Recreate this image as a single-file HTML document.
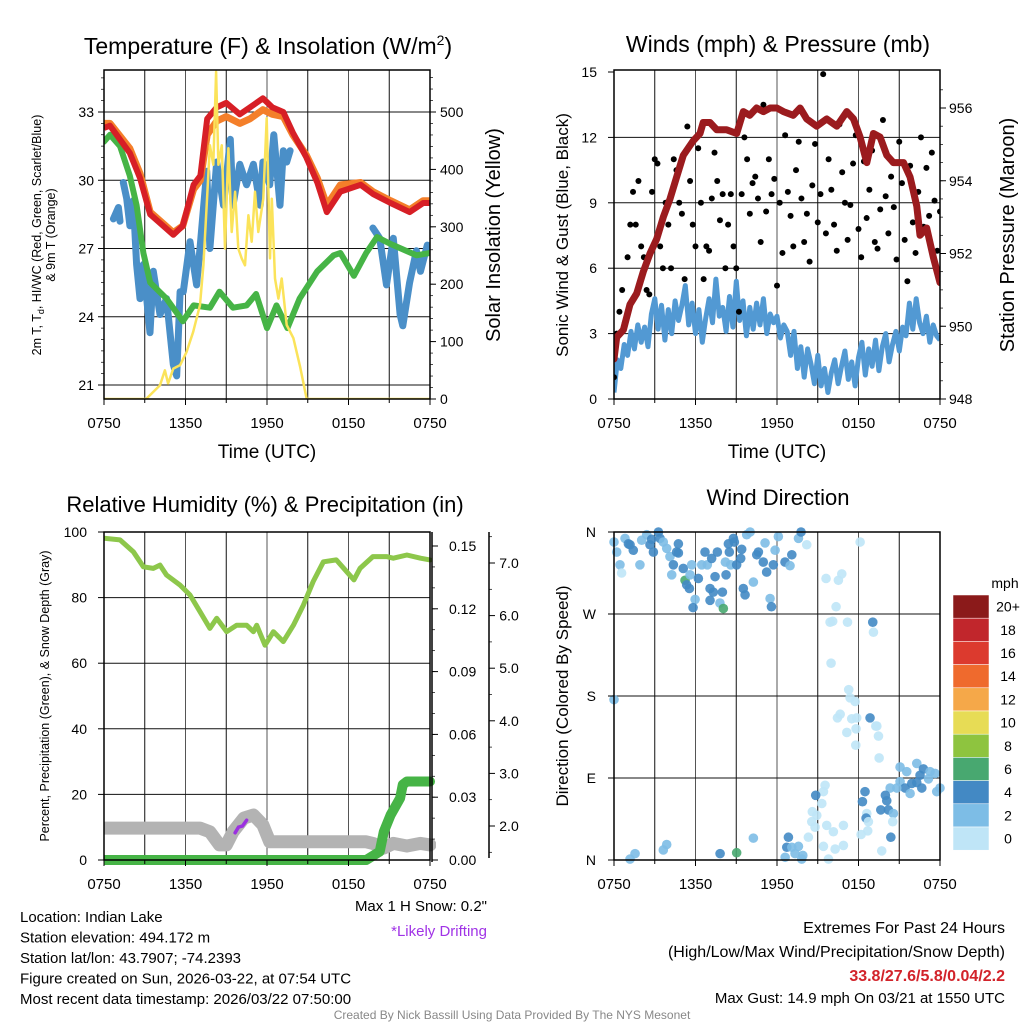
<!DOCTYPE html>
<html><head><meta charset="utf-8">
<style>
html,body{margin:0;padding:0;background:#fff;}
svg{display:block;font-family:"Liberation Sans",Arial,sans-serif;}
</style></head>
<body>
<svg id="chart" width="1024" height="1024" viewBox="0 0 1024 1024" xmlns="http://www.w3.org/2000/svg">
<rect width="1024" height="1024" fill="#fff"/>
</svg>
<script>
// ---------- Panel 1: temperature ----------
const tempTimes = [0,0.44,1.9,2.65,3.4,4.35,5.1,5.8,6.6,7.1,7.6,8.3,9.0,10,10.75,11.7,12.4,13.2,13.9,14.9,15.7,16.4,17.4,18.9,19.8,21.1,22.5,23.5,24];
const tempRed   = [32.3,32.4,31.2,30.1,28.5,28.0,27.6,28.0,29.8,30.2,32.7,33.2,33.4,32.9,33.2,33.6,33.2,33.0,32.1,31.0,29.9,28.6,29.5,29.8,29.4,29.0,28.6,29.0,29.0];
const temp9m    = [32.5,32.5,31.4,30.3,28.6,28.1,27.7,28.0,29.6,30.0,32.0,32.6,32.8,32.5,32.7,33.1,32.9,32.8,32.0,31.1,30.1,28.9,29.8,29.9,29.5,29.1,28.7,29.1,29.1];
const dewTimes  = [0,0.44,1.18,1.9,2.4,2.9,3.4,4.6,5.8,6.6,7.8,8.5,9.5,10.5,11.2,12,12.7,13.5,14.4,15.7,16.9,17.4,18.4,19.3,20.1,21.1,23,24];
const dewVals   = [31.7,32.0,31.5,30.2,28.9,26.8,25.5,24.8,23.8,24.5,24.4,25.1,24.4,24.5,25.0,23.5,24.5,23.5,24.8,26.0,26.7,26.8,25.8,26.8,27.5,27.2,26.7,26.8];
const hiTimes   = [0.69,1.06,1.18,null,1.42,1.67,1.91,2.16,2.4,2.65,2.9,3.39,3.63,4.12,4.6,5.1,5.35,5.6,5.84,6.33,6.82,7.07,7.56,7.8,8.3,8.8,9.3,9.5,10.0,10.5,11.0,11.5,11.7,12.2,12.5,12.96,13.2,13.45,13.7,null,19.8,20.3,20.8,21.3,21.8,22.0,22.5,23.0,23.3,23.8,24];
const hiVals    = [28.3,28.8,28.2,null,29.9,29.2,28.0,29.1,26.3,24.8,26.3,23.3,26.0,24.1,24.8,21.9,21.4,25.1,25.1,27.3,25.4,27.0,30.4,27.0,30.8,28.9,31.8,28.9,30.7,29.8,30.7,28.9,30.8,29.8,32.0,28.9,31.3,30.8,31.3,null,27.9,27.45,25.4,27.45,24.1,23.6,25.5,26.9,26.0,27.15,26.9];
const solarTimes= [0,3.1,4.12,4.48,4.72,5.1,5.6,6.08,6.57,7.07,7.32,7.56,7.8,8.05,8.25,8.42,8.67,8.91,9.16,9.4,9.65,9.89,10.14,10.38,10.63,10.87,11.12,11.36,11.73,11.98,12.22,12.35,12.59,12.84,13.08,13.45,13.94,14.43,14.92,24];
const solarVals = [0,0,24,50,27,53,59,82,117,164,233,338,442,408,570,408,442,262,437,291,361,262,245,233,320,274,361,291,349,489,245,349,210,175,210,129,106,57,0,0];
const tempTicks = [21,24,27,30,33];
const solarTicks = [0,100,200,300,400,500];

// ---------- Panel 2: winds & pressure ----------
const windStart = 0, windStep = 0.25;
const windVals = [0.3,1.8,1.4,2.5,2.0,3.1,2.3,3.4,2.6,3.3,2.4,3.9,
 4.6,3.2,4.3,2.7,4.1,3.0,4.5,3.6,4.3,5.2,3.4,4.4,
 3.0,4.1,2.6,3.7,4.6,3.5,5.5,3.8,4.2,3.1,4.7,3.3,
 5.4,3.6,4.5,2.9,4.2,3.2,4.4,3.4,4.6,3.0,3.9,3.5,
 3.8,2.8,3.4,3.1,2.0,3.1,1.4,2.4,1.0,2.3,1.6,0.7,
 2.0,0.6,1.4,0.3,1.2,1.8,0.7,1.5,2.2,0.9,1.7,0.6,
 1.9,2.6,1.1,2.3,1.5,2.7,1.3,2.4,3.0,1.7,2.5,3.1,
 2.2,3.3,2.9,4.4,3.2,4.6,3.5,3.0,3.8,2.6,3.4,2.9,2.7];
const presTimes = [0,0.2,0.69,1.18,1.67,2.16,2.65,3.14,3.63,4.12,4.61,5.1,5.84,6.33,6.57,7.07,7.56,8.3,9.03,9.52,10.0,10.5,11.0,11.5,11.99,12.47,13.2,13.7,14.19,14.92,15.66,16.4,17.14,17.63,18.12,18.61,19.1,19.59,20.08,20.57,21.31,21.8,22.29,22.53,23.02,23.51,24];
const presVals  = [949.1,949.7,949.9,950.6,950.9,951.5,952.0,952.4,953.0,953.5,954.1,954.7,955.1,955.3,955.6,955.6,955.4,955.4,955.3,955.9,955.8,956.0,955.9,956.0,956.0,955.9,955.8,956.0,955.7,955.5,955.7,955.5,955.9,955.7,955.2,954.5,955.3,955.2,954.7,954.5,954.5,954.1,953.3,952.5,952.7,951.9,951.2];
const gustStart = 0, gustStep = 0.2;
const gustVals = [1,3,4,5,3.5,6.5,8,9.5,8,10, 7,6.5,5,4.8,9.5,11.0,10.8,7,6,9.0, 8,6,11,10.5,9,8.5,5.5,12.5,10,8, 7,11.5,9.0,5.5,7,6.8,9.2,11.3,10,8.2, 9.4,6,8,9.4,7,6,4,9.4,12.0,11, 8.5,9.9,10.2,9.2,7.2,13.5,8.6,11,9.4,10.1, 5.2,9.0,6.7,12.1,9.5,8.4,7,10.5,11.8,9.2, 7.2,8.5,6.3,9.8,11.7,8.1,9.4,14.9,7.6,11.0, 9.6,8.0,6.8,12.6,10.4,9.0,7.3,8.9,10.8,12.1, 7.8,6.5,10.9,8.3,9.6,11.4,7.2,6.9,8.7,12.8, 9.3,7.6,10.2,8.8,6.4,11.8,9.9,7.3,5.4,10.7, 8.1,6.7,9.5,12.0,7.9,10.6,8.4,11.3,9.1,6.8, 8.6,7.5,10.2,9.0,6.5,7.8,8.9,6.9,7.7,8.2, 5.8,4.8,5.3,4.3,3.2,2.6,5.6,2.8,2.2,1.5, 2.1,1.8,1.2,0.6,2.3,1.9,0.3,1.4,0.9,2.6, 1.1,0.7,3.1,1.6,0.4,2.4,1.0,1.8,0.5,1.3, 2.0,0.8,2.9,3.2,1.5,1.0,3.0,2.2,1.4,0.8, 2.5,1.7,3.2,0.9,2.0,2.6,1.2,1.8,2.9,0.7, 3.1,2.4,1.5,2.1,0.9,2.7,3.5,1.3,2.0,2.8, 1.6,3.3,2.2,1.0,2.5,3.0,4.1,2.4,1.8,3.2, 2.6,3.5,1.9,3.3,2.8,4.2,3.7,2.1,2.9,4.3, 4.9,5.3,7.3,5.8,4.9,6.4,4.7,5.0,6.5,7.0, 9.0,6.5,4.9,7.0,5.5,6.3,6.6,8.0,5.9,7.4, 5.6,4.8,5.1,6.9,4.6,5.5,5.2,3.6,6.3,5.0,4.9];
const windTicks = [0,3,6,9,12,15];
const presTicks = [948,950,952,954,956];

// ---------- Panel 3: RH / precip / snow ----------
const rhTimes = [0,1.18,2.16,2.9,3.63,4.12,4.6,5.6,6.33,7.07,7.8,8.3,9.03,9.77,10.5,11.0,11.24,11.85,12.47,13.2,13.94,14.68,15.4,16.15,17.1,17.87,18.4,18.85,19.8,20.8,21.3,22.3,23.3,24];
const rhVals  = [98.1,97.6,94.0,89.4,88.9,89.9,86.9,83.8,80.8,75.7,70.6,73.7,69.6,71.6,71.6,69.6,71.6,65.5,69.6,66.6,71.6,77.7,84.9,90.9,91.5,87.9,85.4,88.9,92.5,92.5,92.0,93.0,92.0,91.5];
const snowTimes = [0,7.07,7.8,8.5,9.0,9.5,10.3,11.0,11.7,12.2,19.3,19.8,20.6,21.3,22.3,23.3,24];
const snowVals  = [1.96,1.96,1.89,1.64,1.64,1.89,2.15,2.21,2.02,1.70,1.70,1.67,1.58,1.67,1.62,1.67,1.64];
const driftTimes = [9.65,9.9,10.2,10.5];
const driftVals  = [1.87,1.98,2.0,2.11];
const precipTimes = [0,19.3,20.3,20.6,21.1,21.8,22.0,22.3,24];
const precipVals  = [0,0,0.004,0.0135,0.0215,0.0295,0.036,0.0375,0.0375];
const rhTicks = [0,20,40,60,80,100];
const precipTicks = [0,0.03,0.06,0.09,0.12,0.15];
const snowTicks = [2,3,4,5,6,7];

// ---------- Panel 4: wind direction ----------
const dirTimes = [0,0.2,0.44,0.56,0.81,1.06,1.18,1.42,1.91,2.04,2.41,2.65,2.77,2.9,3.27,3.39,3.63,3.88,4.12,4.25,4.37,4.61,4.74,4.74,5.1,5.23,5.35,5.55,5.6,5.72,5.97,5.82,6.21,6.46,6.7,6.87,7.07,7.19,7.31,7.07,7.44,7.61,7.8,8.05,8.2,7.98,8.25,8.42,8.49,8.59,8.79,8.86,9.03,9.33,9.4,9.65,9.52,9.77,10.02,10.26,10.51,10.63,10.99,11.12,11.24,11.49,11.59,11.73,11.86,12.1,12.59,12.96,13.09,13.58,13.77,14.19,
 -0.05,15.61,16.52,16.77,16.35,16.1,17.19,15.91,19.05,19.1,15.98,18.12,17.28,17.38,17.75,16.45,17.5,18.85,16.65,17.14,17.87,17.82,19.27,19.35,19.47,17.8,19.52,
 21.06,21.55,22.29,22.78,22.53,23.27,23.64,21.06,21.43,21.92,22.29,22.66,23.15,24.0,23.76,20.82,21.8,20.33,
 15.54,15.42,14.85,15.3,14.6,14.93,14.56,14.8,15.66,16.15,16.89,14.31,15.42,16.89,16.28,15.79,18.48,18.29,19.98,20.08,19.64,20.2,20.57,20.52,18.61,18.56,18.73,18.68,18.19,20.38,19.71,
 12.84,12.72,13.09,13.58,13.9,13.33,13.82,12.6,10.26,9.03,7.81,3.88,3.63,1.55,1.18];
const dirVals = [349,338,324,315,353,347,346,340,324,351,357,346,352,338,360,353,349,342,333,313,324,338,347,337,320,307,302,298,313,324,286,277,309,324,338,324,298,331,294,285,311,338,282,276,327,294,313,347,338,324,353,349,324,331,341,291,298,357,360,305,335,338,327,348,316,287,278,324,340,355,327,323,335,353,360,346,
 176,309,307,314,278,262,261,261,261,250,216,349,187,178,174,156,155,156,160,140,156,144,147,147,136,126,112,
 102,97,106,100,93,97,95,86,79,84,85,79,89,79,75,79,73,79,
 82,75,71,62,53,49,42,36,38,31,38,25,15,16,12,1,75,64,71,65,55,55,51,42,51,46,42,32,28,25,10,
 25,14,14,15,5,7,1,3,24,8,7,17,11,7,1];
const dirSpeeds = [3,3,3,1,3,5,5,5,3,3,3,5,5,5,5,5,3,3,3,3,5,5,5,5,5,7,5,5,3,3,3,5,5,3,5,3,5,5,5,5,5,5,3,7,3,5,5,5,5,3,5,5,5,5,5,5,5,3,3,3,5,5,5,3,5,3,5,5,3,3,5,3,5,3,5,1,
 3,1,1,1,1,1,1,1,5,1,1,1,1,1,1,1,1,5,1,1,1,1,1,1,1,1,1,
 3,3,3,5,5,3,3,3,5,5,5,5,3,3,3,3,3,3,
 1,1,5,1,1,1,1,1,1,1,1,1,1,1,1,1,5,5,5,5,5,5,3,1,1,5,1,1,1,5,1,
 5,5,3,3,3,3,3,3,3,7,5,3,3,3,3];
const speedBins = ["0","2","4","6","8","10","12","14","16","18","20+"];
const speedColors = ["#bfe5f7","#7dbde6","#4389c4","#48a870","#8ec43f","#e7dc55","#f5a849","#ef6a2d","#dc3a2e","#c1262c","#8b1a1a"];

// ---------- drawing ----------
const svg = document.getElementById('chart');
const NS = 'http://www.w3.org/2000/svg';
function mk(tag, attrs, parent) {
  const e = document.createElementNS(NS, tag);
  for (const k in attrs) e.setAttribute(k, attrs[k]);
  (parent || svg).appendChild(e);
  return e;
}
function txt(s, x, y, size, anchor, parent, extra) {
  const t = mk('text', Object.assign({x:x, y:y, 'font-size':size, 'text-anchor':anchor||'start', fill:'#000'}, extra||{}), parent);
  t.textContent = s;
  return t;
}
function pathFrom(times, vals, fx, fy) {
  let d = '', pen = false;
  for (let i = 0; i < times.length; i++) {
    if (times[i] === null || vals[i] === null) { pen = false; continue; }
    d += (pen ? 'L' : 'M') + fx(times[i]).toFixed(1) + ' ' + fy(vals[i]).toFixed(1);
    pen = true;
  }
  return d;
}
function lin(d0, d1, r0, r1) { return v => r0 + (v - d0) * (r1 - r0) / (d1 - d0); }

function frame(name, L, T, W, H, gridYs) {
  const g = mk('g', {});
  
  
  for (let i = 1; i < 8; i++) {
    const x = L + i * W / 8;
    mk('line', {x1:x, y1:T, x2:x, y2:T+H, stroke: i%2===0 ? '#555' : '#111', 'stroke-width':1}, g);
  }
  gridYs.forEach(y => mk('line', {x1:L, y1:y, x2:L+W, y2:y, stroke:'#111', 'stroke-width':1}, g));
  return g;
}
function border(name, L, T, W, H) {
  const r = mk('rect', {x:L, y:T, width:W, height:H, fill:'none', stroke:'#000', 'stroke-width':1.5});
  
  
}
function timeAxis(name, L, T, W, H) {
  const g = mk('g', {});
  
  
  const labs = ['0750','1350','1950','0150','0750'];
  labs.forEach((s, i) => {
    const x = L + i * W / 4;
    mk('line', {x1:x, y1:T+H, x2:x, y2:T+H+6, stroke:'#000'}, g);
    txt(s, x, T+H+29, 15, 'middle', g);
  });
  for (let i = 1; i < 8; i += 2) { const x = L + i*W/8; mk('line', {x1:x, y1:T+H, x2:x, y2:T+H+4, stroke:'#000'}, g); }
}
function clip(id, L, T, W, H) {
  const c = mk('clipPath', {id:id});
  mk('rect', {x:L, y:T, width:W, height:H}, c);
}

// ===== Panel 1 =====
(function(){
  const L=104,T=70,W=326,H=329;
  const x = lin(0,24,L,L+W), y = lin(21,33,385,112), ys = lin(0,500,399,112);
  clip('c1',L,T,W,H);
  frame('temperature', L,T,W,H, tempTicks.map(y));
  const g = mk('g', {'clip-path':'url(#c1)'});
  
  
  let p;
  p = mk('path',{d:pathFrom(hiTimes,hiVals,x,y),fill:'none',stroke:'#4a8fc8','stroke-width':7,'stroke-linejoin':'round','stroke-linecap':'round'},g);
   
  p = mk('path',{d:pathFrom(dewTimes,dewVals,x,y),fill:'none',stroke:'#46b446','stroke-width':6,'stroke-linejoin':'round','stroke-linecap':'round'},g);
   
  p = mk('path',{d:pathFrom(tempTimes,temp9m,x,y),fill:'none',stroke:'#f47f2a','stroke-width':7,'stroke-linejoin':'round'},g);
   
  p = mk('path',{d:pathFrom(tempTimes,tempRed,x,y),fill:'none',stroke:'#d71f26','stroke-width':6,'stroke-linejoin':'round'},g);
   
  p = mk('path',{d:pathFrom(solarTimes,solarVals,x,ys),fill:'none',stroke:'#fbe35a','stroke-width':2.5,'stroke-linejoin':'round'},g);
   
  border('temperature',L,T,W,H);
  timeAxis('temperature',L,T,W,H);
  const ay = mk('g',{});  
  tempTicks.forEach(v => { mk('line',{x1:L-6,y1:y(v),x2:L,y2:y(v),stroke:'#000'},ay); txt(String(v),L-10,y(v)+5,14,'end',ay); });
  for (let v=21.5; v<34.8; v+=0.5) mk('line',{x1:L-3,y1:y(v),x2:L,y2:y(v),stroke:'#000','stroke-width':0.7},ay);
  const ar = mk('g',{});  
  solarTicks.forEach(v => { mk('line',{x1:L+W,y1:ys(v),x2:L+W+6,y2:ys(v),stroke:'#000'},ar); txt(String(v),L+W+10,ys(v)+5,14,'start',ar); });
  for (let v=20; v<570; v+=20) mk('line',{x1:L+W,y1:ys(v),x2:L+W+3,y2:ys(v),stroke:'#000','stroke-width':0.7},ar);
  let t = txt('Temperature (F) & Insolation (W/m',268,54,23,'middle');
  const sup = mk('tspan',{dy:-9,'font-size':14},t); sup.textContent='2';
  const cl = mk('tspan',{dy:9},t); cl.textContent=')';
   
  t = txt('Time (UTC)',267,458,19,'middle');  
  const lt = mk('text',{transform:'translate(41,235) rotate(-90)','font-size':12.5,'text-anchor':'middle'});
  lt.textContent = '2m T, T';
  const sb = mk('tspan',{dy:3,'font-size':9},lt); sb.textContent='d';
  const rest = mk('tspan',{dy:-3},lt); rest.textContent=', HI/WC (Red, Green, Scarlet/Blue)';
   
  t = txt('& 9m T (Orange)',0,0,12.5,'middle',null,{transform:'translate(55,235) rotate(-90)'});
   
  t = txt('Solar Insolation (Yellow)',0,0,20,'middle',null,{transform:'translate(500,235) rotate(-90)'});
   
})();

// ===== Panel 2 =====
(function(){
  const L=614,T=70,W=326,H=329;
  const x = lin(0,24,L,L+W), y = lin(0,15,399,72), yp = lin(948,956,399,108);
  clip('c2',L,T,W,H);
  frame('winds', L,T,W,H, [3,6,9,12].map(y));
  const g = mk('g',{'clip-path':'url(#c2)'});
   
  const wt = windVals.map((v,i) => windStart + i*windStep);
  let p = mk('path',{d:pathFrom(wt,windVals,x,y),fill:'none',stroke:'#5299d3','stroke-width':5,'stroke-linejoin':'round'},g);
   
  gustVals.forEach((v,i) => {
    const c = mk('circle',{cx:x(gustStart+i*gustStep),cy:y(v),r:3,fill:'#000'},g);
     
  });
  p = mk('path',{d:pathFrom(presTimes,presVals,x,yp),fill:'none',stroke:'#9b1b1e','stroke-width':7,'stroke-linejoin':'round','stroke-linecap':'round'},g);
   
  border('winds',L,T,W,H);
  timeAxis('winds',L,T,W,H);
  const ay = mk('g',{});  
  windTicks.forEach(v => { mk('line',{x1:L-6,y1:y(v),x2:L,y2:y(v),stroke:'#000'},ay); txt(String(v),L-17,y(v)+5,14,'end',ay); });
  const ar = mk('g',{});  
  presTicks.forEach(v => { mk('line',{x1:L+W,y1:yp(v),x2:L+W+6,y2:yp(v),stroke:'#000'},ar); txt(String(v),L+W+9,yp(v)+5,14,'start',ar); });
  for (let v=948.5; v<957; v+=0.5) mk('line',{x1:L+W,y1:yp(v),x2:L+W+3,y2:yp(v),stroke:'#000','stroke-width':0.7},ar);
  let t = txt('Winds (mph) & Pressure (mb)',778,52,23,'middle');  
  t = txt('Time (UTC)',777,458,19,'middle');  
  t = txt('Sonic Wind & Gust (Blue, Black)',0,0,17,'middle',null,{transform:'translate(568,235) rotate(-90)'});
   
  t = txt('Station Pressure (Maroon)',0,0,20,'middle',null,{transform:'translate(1014,235) rotate(-90)'});
   
})();

// ===== Panel 3 =====
(function(){
  const L=104,T=532,W=326,H=328;
  const x = lin(0,24,L,L+W), y = lin(0,100,860,532), yp = lin(0,0.15,860,546), ysn = lin(2,7,826,563);
  clip('c3',L,T-2,W+6,H+8);
  frame('humidity', L,T,W,H, [20,40,60,80].map(y));
  const g = mk('g',{'clip-path':'url(#c3)'});
   
  let p = mk('path',{d:pathFrom(snowTimes,snowVals,x,ysn),fill:'none',stroke:'#b3b3b3','stroke-width':13,'stroke-linejoin':'round','stroke-linecap':'round'},g);
   
  p = mk('path',{d:pathFrom(driftTimes,driftVals,x,ysn),fill:'none',stroke:'#9b30e0','stroke-width':3.5,'stroke-linecap':'round'},g);
   
  p = mk('path',{d:pathFrom(precipTimes,precipVals,x,yp),fill:'none',stroke:'#46b446','stroke-width':10,'stroke-linejoin':'round','stroke-linecap':'round'},g);
   
  p = mk('path',{d:pathFrom(rhTimes,rhVals,x,y),fill:'none',stroke:'#8dc74b','stroke-width':5,'stroke-linejoin':'round','stroke-linecap':'round'},g);
   
  border('humidity',L,T,W,H);
  timeAxis('humidity',L,T,W,H);
  const ay = mk('g',{});  
  rhTicks.forEach(v => { mk('line',{x1:L-6,y1:y(v),x2:L,y2:y(v),stroke:'#000'},ay); txt(String(v),L-17,y(v)+5,14,'end',ay); });
  const ar = mk('g',{});  
  mk('line',{x1:432,y1:532,x2:432,y2:862,stroke:'#000','stroke-width':1.5},ar);
  precipTicks.forEach(v => { mk('line',{x1:432,y1:yp(v),x2:438,y2:yp(v),stroke:'#000'},ar); txt(v.toFixed(2),449,yp(v)+5,14,'start',ar); });
  for (let v=0.01; v<0.16; v+=0.01) mk('line',{x1:432,y1:yp(v),x2:435,y2:yp(v),stroke:'#000','stroke-width':0.7},ar);
  const as = mk('g',{});  
  mk('line',{x1:489,y1:532,x2:489,y2:858,stroke:'#000','stroke-width':1.5},as);
  snowTicks.forEach(v => { mk('line',{x1:489,y1:ysn(v),x2:495,y2:ysn(v),stroke:'#000'},as); txt(v.toFixed(1),509,ysn(v)+5,14,'middle',as); });
  for (let v=1.5; v<7.6; v+=0.5) if (v%1) mk('line',{x1:489,y1:ysn(v),x2:492,y2:ysn(v),stroke:'#000','stroke-width':0.7},as);
  let t = txt('Relative Humidity (%) & Precipitation (in)',265,512,22,'middle');  
  t = txt('Percent, Precipitation (Green), & Snow Depth (Gray)',0,0,12.5,'middle',null,{transform:'translate(49,696) rotate(-90)'});
   
})();

// ===== Panel 4 =====
(function(){
  const L=614,T=532,W=326,H=328;
  const x = lin(0,24,L,L+W), y = lin(0,360,860,532);
  clip('c4',L-6,T-6,W+12,H+12);
  frame('direction', L,T,W,H, [90,180,270].map(y));
  const g = mk('g',{'clip-path':'url(#c4)'});
   
  function colorFor(s){ let i = Math.min(10, Math.max(0, Math.floor(s/2))); return speedColors[i]; }
  dirTimes.forEach((h,i) => {
    const c = mk('circle',{cx:x(Math.max(0,h)),cy:y(dirVals[i]),r:4.8,fill:colorFor(dirSpeeds[i]),'fill-opacity':0.9},g);
     
  });
  border('direction',L,T,W,H);
  timeAxis('direction',L,T,W,H);
  const ay = mk('g',{});  
  ['N','E','S','W','N'].forEach((s,i) => { const v=i*90; mk('line',{x1:L-6,y1:y(v),x2:L,y2:y(v),stroke:'#000'},ay); txt(s,L-18,y(v)+5,14,'end',ay); });
  let t = txt('Wind Direction',778,505,22,'middle');  
  t = txt('Direction (Colored By Speed)',0,0,17,'middle',null,{transform:'translate(568,696) rotate(-90)'});
   
  const cb = mk('g',{});  
  txt('mph',1005,588,14,'middle',cb);
  const bh = 23.2;
  for (let i=0;i<11;i++){
    const j = 10-i;
    const r = mk('rect',{x:953,y:595+i*bh,width:36,height:bh,fill:speedColors[j],stroke:'#fff','stroke-width':0.5},cb);
     
    txt(speedBins[j],1008,595+i*bh+bh/2+5,14,'middle',cb);
  }
})();

// ===== Footer text =====
(function(){
  const info = ['Location: Indian Lake','Station elevation: 494.172 m','Station lat/lon: 43.7907; -74.2393','Figure created on Sun, 2026-03-22, at 07:54 UTC','Most recent data timestamp: 2026/03/22 07:50:00'];
  const g = mk('g',{});  
  info.forEach((s,i) => txt(s,20,922+i*20.5,15,'start',g));
  let t = txt('Max 1 H Snow: 0.2"',487,911,15,'end');  
  t = txt('*Likely Drifting',487,936,15,'end',null,{fill:'#a033e6'});  
  const e = mk('g',{});  
  txt('Extremes For Past 24 Hours',1005,933,16,'end',e);
  txt('(High/Low/Max Wind/Precipitation/Snow Depth)',1005,957,16,'end',e);
  txt('33.8/27.6/5.8/0.04/2.2',1005,981,16,'end',e,{fill:'#d2232a','font-weight':'bold'});
  txt('Max Gust: 14.9 mph On 03/21 at 1550 UTC',1005,1003,15,'end',e);
  t = txt('Created By Nick Bassill Using Data Provided By The NYS Mesonet',512,1019,12,'middle',null,{fill:'#888'});
   
})();
</script>
</body></html>
